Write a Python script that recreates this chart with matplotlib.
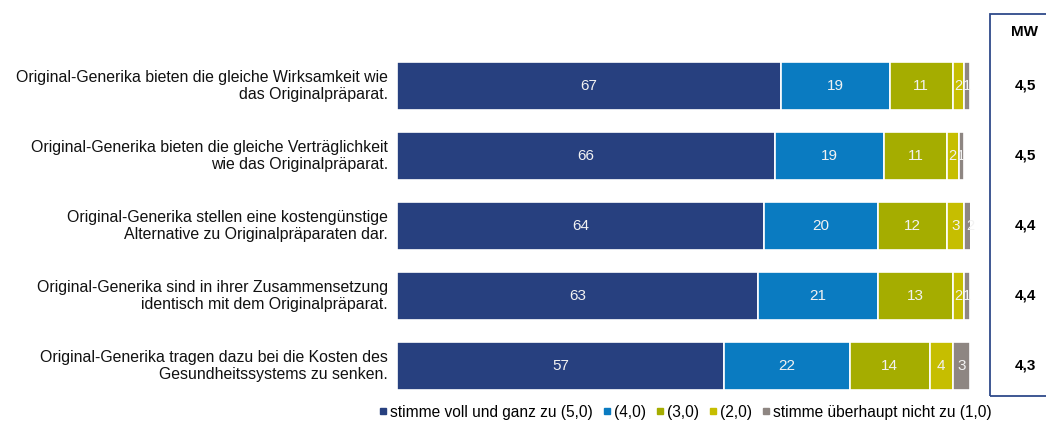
import matplotlib
matplotlib.use("Agg")
import matplotlib.pyplot as plt
from matplotlib.patches import Rectangle
from matplotlib.lines import Line2D
from matplotlib.transforms import blended_transform_factory

plt.rcParams['font.family'] = ['Liberation Sans', 'DejaVu Sans']

categories = [
    "Original-Generika bieten die gleiche Wirksamkeit wie\ndas Originalpräparat.",
    "Original-Generika bieten die gleiche Verträglichkeit\nwie das Originalpräparat.",
    "Original-Generika stellen eine kostengünstige\nAlternative zu Originalpräparaten dar.",
    "Original-Generika sind in ihrer Zusammensetzung\nidentisch mit dem Originalpräparat.",
    "Original-Generika tragen dazu bei die Kosten des\nGesundheitssystems zu senken.",
]
series_names = ["stimme voll und ganz zu (5,0)", "(4,0)", "(3,0)", "(2,0)", "stimme überhaupt nicht zu (1,0)"]
s5 = [67, 66, 64, 63, 57]
s4 = [19, 19, 20, 21, 22]
s3 = [11, 11, 12, 13, 14]
s2 = [2, 2, 3, 2, 4]
s1 = [1, 1, 2, 1, 3]
mw = ["4,5", "4,5", "4,4", "4,4", "4,3"]
colors = ["#27407F", "#0A7BC1", "#A5AD00", "#C6BE00", "#8E8682"]

W, H = 1046, 424
fig = plt.figure(figsize=(W/100, H/100), dpi=100)
ax = fig.add_axes([397/W, 1-400/H, 573/W, 350/H])
ax.set_xlim(0, 100)
ax.set_ylim(4.486, -0.514)
ax.axis('off')

series = [s5, s4, s3, s2, s1]
ypos = list(range(len(categories)))
left = [0]*len(categories)
for vals, col in zip(series, colors):
    ax.barh(ypos, vals, left=left, height=0.69, color=col, edgecolor='white', linewidth=1.2)
    for y, v, l in zip(ypos, vals, left):
        fs = 11 if v >= 3 else 10.5
        ax.text(l + v/2, y, str(v), ha='center', va='center', color='#F2F2F2', fontsize=fs)
    left = [a+b for a, b in zip(left, vals)]

for y, cat in zip(ypos, categories):
    ax.text(-1.6, y, cat, ha='right', va='center', fontsize=11.4, color='#111111', linespacing=1.2)

# MW box
box = Rectangle((990/W, 1-396/H), 80/W, 382/H, transform=fig.transFigure, fill=False,
                edgecolor='#2F4A8A', linewidth=1.3, clip_on=False)
fig.patches.append(box)
fig.text(1025/W, 1-32/H, "MW", ha='center', va='center', fontsize=11, fontweight='bold')
tr = blended_transform_factory(fig.transFigure, ax.transData)
for y, m in zip(ypos, mw):
    ax.text(1025/W, y, m, ha='center', va='center', fontsize=11, fontweight='bold', transform=tr)

handles = [Line2D([0], [0], marker='s', linestyle='none', markersize=5, markerfacecolor=c, markeredgecolor=c) for c in colors]
fig.legend(handles, series_names, loc='center', bbox_to_anchor=(684/W, 1-412/H), ncol=5, frameon=False,
           fontsize=11.2, handletextpad=0.05, columnspacing=0.5, handlelength=0.8, borderpad=0)

fig.savefig("out.png", dpi=100)
